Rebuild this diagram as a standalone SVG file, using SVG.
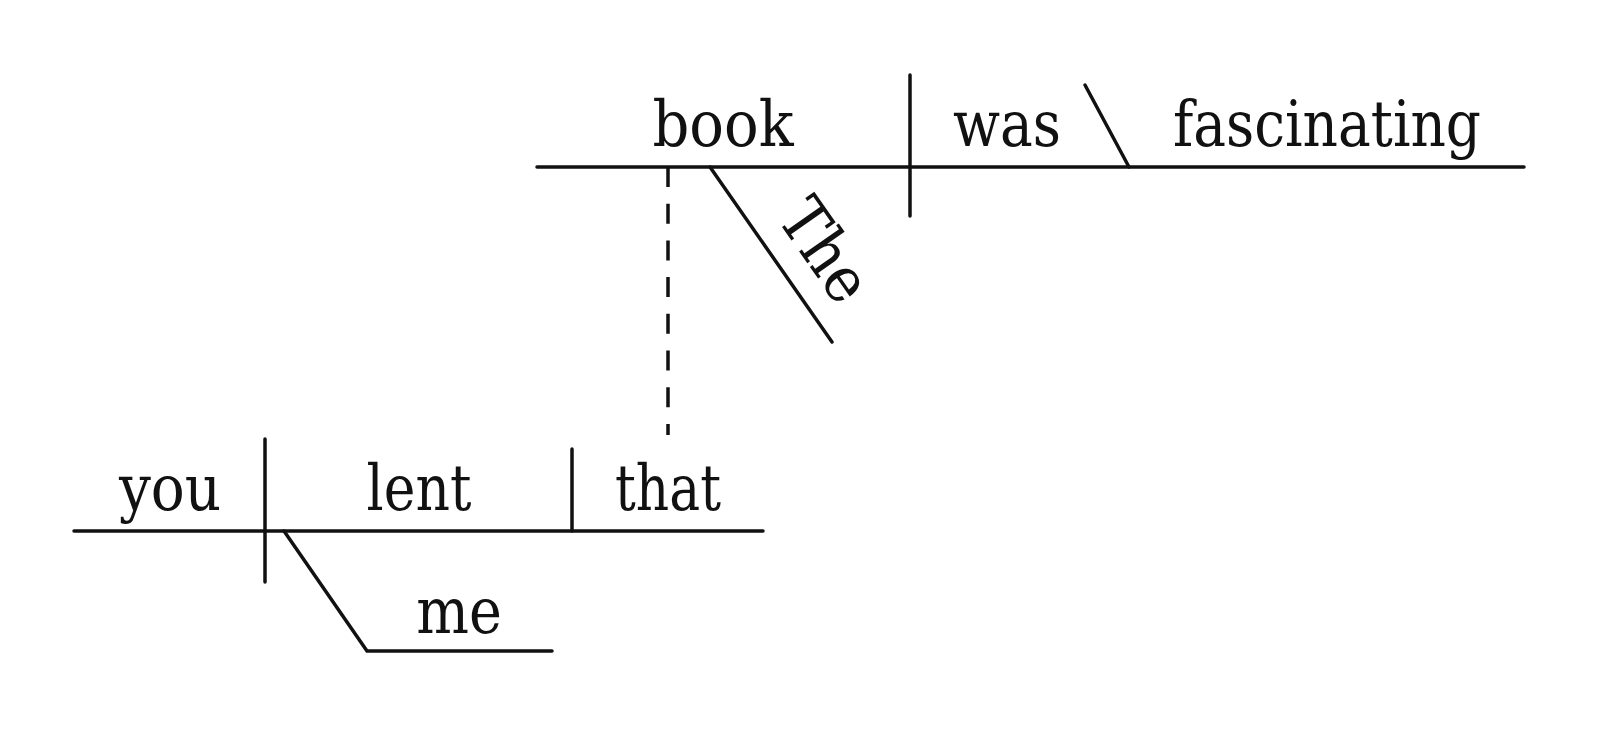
<svg xmlns="http://www.w3.org/2000/svg" width="1600" height="729" viewBox="0 0 1600 729">
<style>
.ln{stroke:#111;stroke-width:3.5;stroke-linecap:round;fill:none}
.ds{stroke:#111;stroke-width:3.5;fill:none;stroke-dasharray:20 16.7}
.w{font-family:"DejaVu Serif Condensed","DejaVu Serif",serif;font-stretch:condensed;font-size:64px;fill:#111;text-anchor:middle}
</style>
<rect width="1600" height="729" fill="#fff"/>
<g id="connectors">
<line class="ln" x1="537" y1="167" x2="1524" y2="167"/>
<line class="ln" x1="910" y1="75" x2="910" y2="216"/>
<line class="ln" x1="1085" y1="85" x2="1129" y2="167"/>
<line class="ln" x1="710" y1="167" x2="832" y2="342"/>
<line class="ds" x1="668" y1="167" x2="668" y2="435"/>
<line class="ln" x1="74" y1="531" x2="763" y2="531"/>
<line class="ln" x1="265" y1="439" x2="265" y2="582"/>
<line class="ln" x1="572" y1="449" x2="572" y2="531"/>
<polyline class="ln" points="284,531 367,651 552,651"/>
</g>
<g id="book"><text class="w" transform="translate(723,146)">book</text></g>
<g id="was"><text class="w" transform="translate(1007,146) scale(0.955,1)">was</text></g>
<g id="fascinating"><text class="w" transform="translate(1327,146) scale(0.955,1)">fascinating</text></g>
<g id="the"><text class="w" transform="translate(807,263) rotate(55.1)">The</text></g>
<g id="you"><text class="w" transform="translate(170,510) scale(0.98,1)">you</text></g>
<g id="lent"><text class="w" transform="translate(419,510) scale(0.93,1)">lent</text></g>
<g id="that"><text class="w" transform="translate(668,510) scale(0.9,1)">that</text></g>
<g id="me"><text class="w" transform="translate(459,633) scale(0.965,1)">me</text></g>
</svg>
